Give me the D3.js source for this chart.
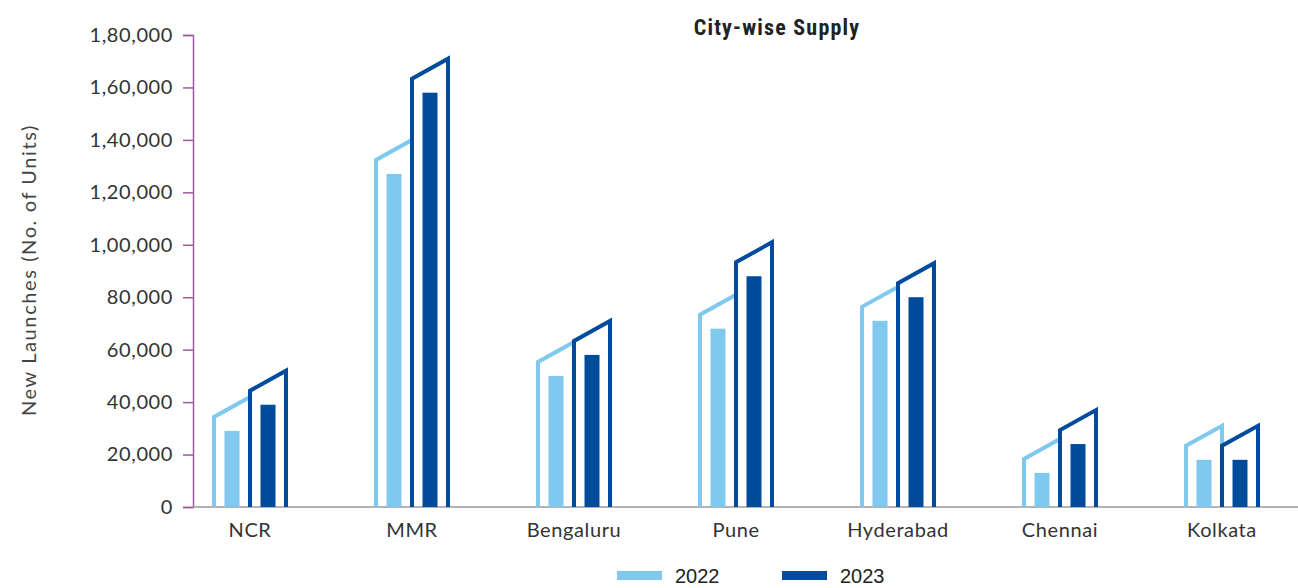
<!DOCTYPE html>
<html><head><meta charset="utf-8">
<script src="https://cdn.jsdelivr.net/npm/d3@7"></script>
<style>body{margin:0;background:#fff} svg{display:block}</style>
</head><body><svg id="c" width="1298" height="588"></svg>
<script>
const cities = ["NCR","MMR","Bengaluru","Pune","Hyderabad","Chennai","Kolkata"];
const years = ["2022","2023"];
const values2022 = [29000,127000,50000,68000,71000,13000,18000];
const values2023 = [39000,158000,58000,88000,80000,24000,18000];
const yTicks = [0,20000,40000,60000,80000,100000,120000,140000,160000,180000];
const seriesColors = ["#7fc8ee","#004b9b"];
const chartTitle = "City-wise Supply";
const yTitle = "New Launches (No. of Units)";

const svg = d3.select("#c");
const fmt = d3.formatLocale({decimal:".",thousands:",",grouping:[3,2],currency:["₹",""]}).format(",");

const x = d3.scaleBand().domain(cities).range([169,1303]).padding(0);
const sub = d3.scaleBand().domain(years).range([-36,36]).padding(0);
const y = d3.scaleLinear().domain([0,180000]).range([507,35]);
const color = d3.scaleOrdinal().domain(years).range(seriesColors);

const rows = [];
cities.forEach((c,i)=>{ rows.push({city:c,year:"2022",v:values2022[i]}); rows.push({city:c,year:"2023",v:values2023[i]}); });

const fontMain = "'Century Gothic','URW Gothic','Lato','Open Sans',sans-serif";

// y axis
const yAxis = svg.append("g").attr("transform","translate(193,0)")
  .call(d3.axisLeft(y).tickValues(yTicks).tickFormat(fmt).tickSize(10).tickPadding(10));
yAxis.selectAll("path,line").attr("stroke","#9c5a9c").attr("stroke-width",1.5);
yAxis.selectAll("text").attr("fill","#333").style("font-size","20px")
  .style("letter-spacing","0.6px").style("font-family",fontMain);

// baseline
svg.append("line").attr("x1",193).attr("x2",1298).attr("y1",y(0)).attr("y2",y(0))
  .attr("stroke","#9a9a9a").attr("stroke-width",1.5);

// buildings
const g = svg.append("g");
const bw = sub.bandwidth();
rows.forEach(d=>{
  const x0 = x(d.city) + x.bandwidth()/2 + sub(d.year);
  const x1 = x0 + bw;
  const top = y(d.v);
  const p = d3.path();
  p.moveTo(x0, y(0));
  p.lineTo(x0, top - 14);
  p.lineTo(x1, top - 34);
  p.lineTo(x1, y(0));
  g.append("path").attr("d",p.toString()).attr("fill","none")
    .attr("stroke",color(d.year)).attr("stroke-width",4).attr("stroke-linejoin","miter");
});
rows.forEach(d=>{
  const x0 = x(d.city) + x.bandwidth()/2 + sub(d.year);
  g.append("rect").attr("x",x0+10.5).attr("width",15)
    .attr("y",y(d.v)).attr("height",y(0)-y(d.v)).attr("fill",color(d.year));
});

// x labels
svg.append("g").selectAll("text").data(cities).join("text")
  .attr("x",d=>x(d)+x.bandwidth()/2).attr("y",537).attr("text-anchor","middle")
  .attr("fill","#333").style("font-size","20px").style("letter-spacing","0.6px")
  .style("font-family",fontMain).text(d=>d);

// y title
svg.append("text").attr("transform","translate(36,270) rotate(-90)").attr("text-anchor","middle")
  .attr("fill","#444").style("font-size","20px").style("letter-spacing","1.6px")
  .style("font-family",fontMain).text(yTitle);

// title
svg.append("text").attr("x",777).attr("y",35).attr("text-anchor","middle")
  .attr("fill","#222").style("font-size","22px").style("font-weight","bold").style("letter-spacing","1.2px")
  .style("font-family","'Liberation Sans Narrow','Arial Narrow','Roboto Condensed',sans-serif").text(chartTitle);

// legend
const legendX = d3.scaleOrdinal().domain(years).range([617,782]);
const lg = svg.append("g").selectAll("g").data(years).join("g")
  .attr("transform",d=>`translate(${legendX(d)},571)`);
lg.append("rect").attr("width",45).attr("height",9).attr("fill",d=>color(d));
lg.append("text").attr("x",58).attr("y",12).attr("fill","#222")
  .style("font-size","20px").style("font-family","'Liberation Sans',Arial,sans-serif").text(d=>d);
</script></body></html>
